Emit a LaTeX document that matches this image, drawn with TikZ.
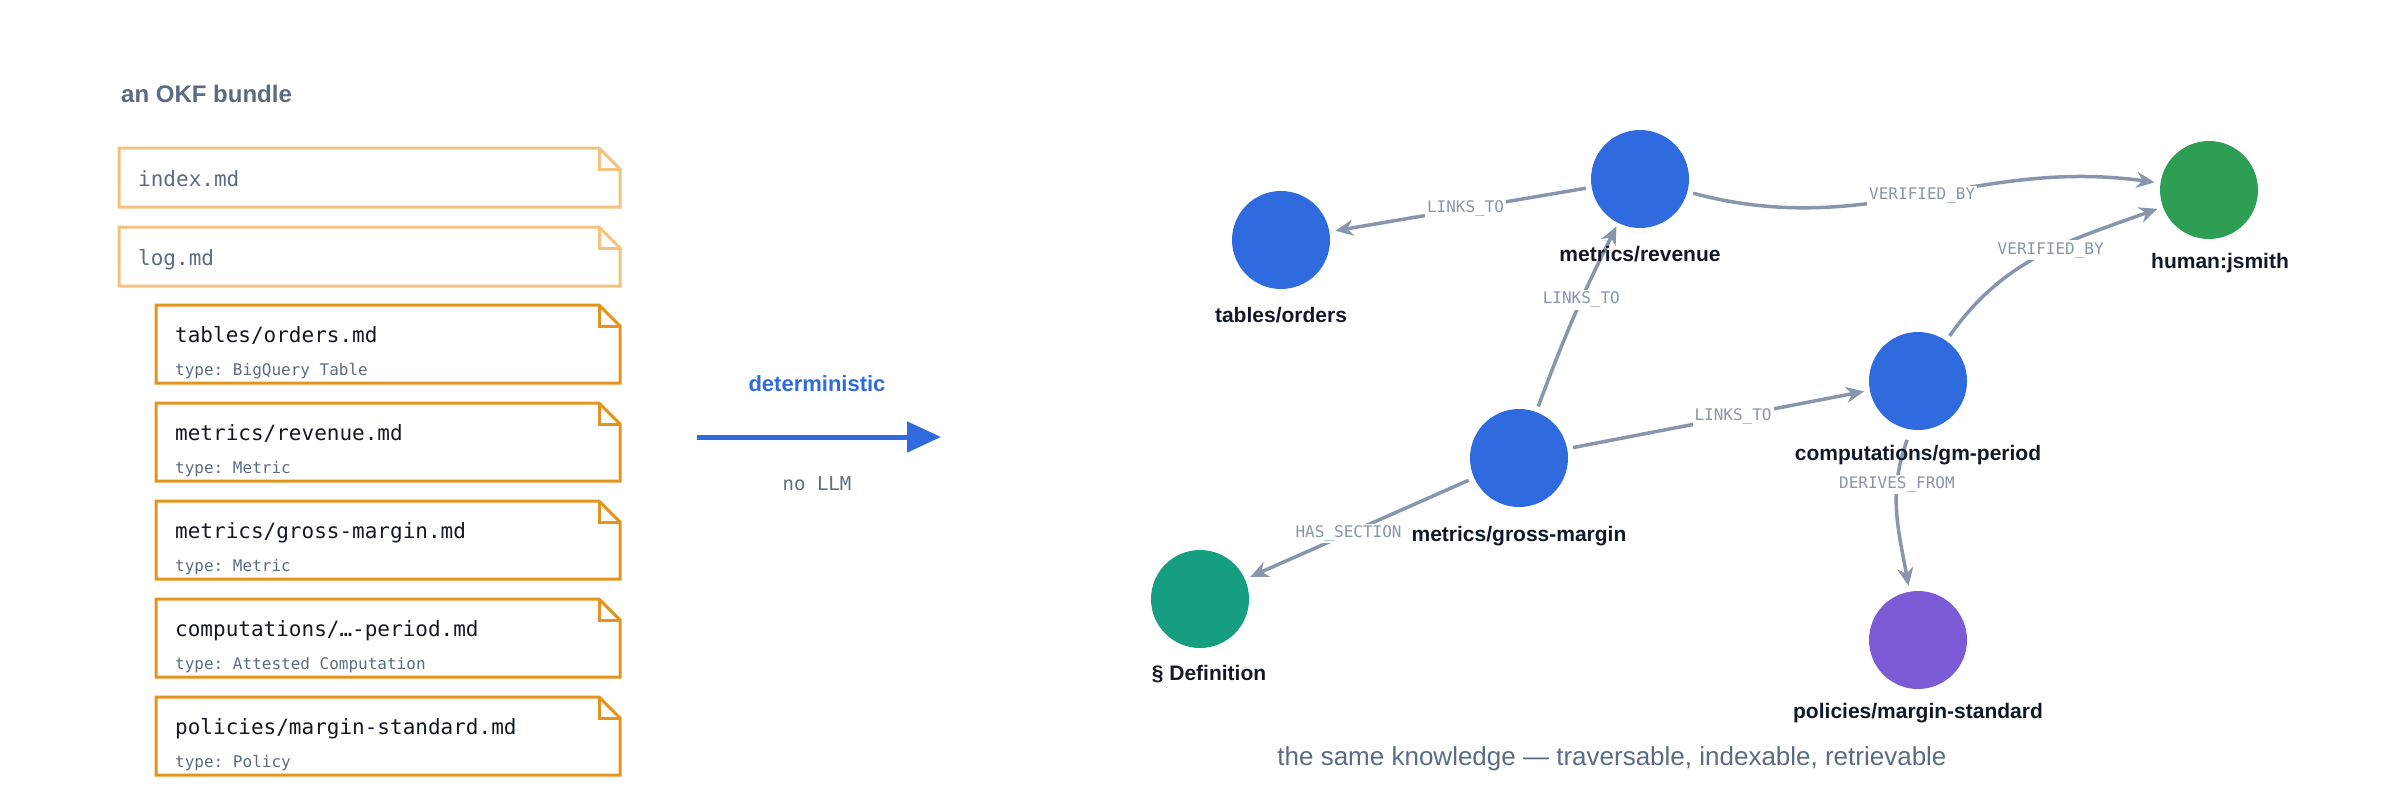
\documentclass[tikz,border=0pt]{standalone}
\usepackage{fontspec}
\setmainfont{Liberation Sans}
\setmonofont{DejaVu Sans Mono}
\usetikzlibrary{arrows.meta}
\definecolor{og}{HTML}{E39420}
\definecolor{ogl}{HTML}{F2C27E}
\definecolor{ink}{HTML}{111827}
\definecolor{sub}{HTML}{5B6B84}
\definecolor{ed}{HTML}{8796AD}
\definecolor{nb}{HTML}{2F6BDE}
\definecolor{ng}{HTML}{2E9E55}
\definecolor{nt}{HTML}{169E80}
\definecolor{np}{HTML}{7B5CD6}
\newcommand\okfdoc[6]{% x1,y1,x2,y2,color,name
  \draw[#5,line width=3pt,line join=miter] (#1,#2) -- (#3-21,#2) -- (#3,#2+21) -- (#3,#4) -- (#1,#4) -- cycle;
  \draw[#5,line width=3pt] (#3-21,#2) -- (#3-21,#2+21) -- (#3,#2+21);
  \coordinate (#6) at (#1,#2);}
\tikzset{
  x=1pt,y=-1pt,
  fname/.style={anchor=base west,inner sep=0,font=\fontsize{21}{21}\selectfont\ttfamily,text=ink},
  ftype/.style={anchor=base west,inner sep=0,font=\fontsize{16}{16}\selectfont\ttfamily,text=sub},
  gnode/.style={circle,minimum size=98pt,inner sep=0,outer sep=6pt},
  glab/.style={font=\fontsize{21}{21}\selectfont\bfseries,text=ink,inner sep=1pt},
  edge/.style={draw=ed,line width=3.5pt,-{Stealth[length=18pt,width=16pt]}},
  elab/.style={fill=white,inner sep=2pt,font=\fontsize{16}{16}\selectfont\ttfamily,text=ed},
}
\begin{document}
\begin{tikzpicture}
\useasboundingbox (0,0) rectangle (2400,800);
\node[anchor=base west,inner sep=0,font=\fontsize{24}{24}\selectfont\bfseries,text=sub] (title) at (121,102) {an OKF bundle};
% documents
\okfdoc{119}{148}{620}{207}{ogl}{d0}
\node[fname,text=sub] (t0) at (138,186) {index.md};
\okfdoc{119}{227}{620}{286}{ogl}{d1}
\node[fname,text=sub] (t1) at (138,265) {log.md};
\okfdoc{156}{305}{620}{383}{og}{d2}
\node[fname] (t2) at (175,342) {tables/orders.md};
\node[ftype] (y2) at (175,375) {type: BigQuery Table};
\okfdoc{156}{403}{620}{481}{og}{d3}
\node[fname] (t3) at (175,440) {metrics/revenue.md};
\node[ftype] (y3) at (175,473) {type: Metric};
\okfdoc{156}{501}{620}{579}{og}{d4}
\node[fname] (t4) at (175,538) {metrics/gross-margin.md};
\node[ftype] (y4) at (175,571) {type: Metric};
\okfdoc{156}{599}{620}{677}{og}{d5}
\node[fname] (t5) at (175,636) {computations/…-period.md};
\node[ftype] (y5) at (175,669) {type: Attested Computation};
\okfdoc{156}{697}{620}{775}{og}{d6}
\node[fname] (t6) at (175,734) {policies/margin-standard.md};
\node[ftype] (y6) at (175,767) {type: Policy};
% arrow
\coordinate (a0) at (697,437);
\coordinate (a1) at (941,437);
\draw[nb,line width=5pt,-{Triangle[length=34pt,width=30pt]}] (a0) -- (a1);
\node[font=\fontsize{22}{22}\selectfont\bfseries,text=nb] (det) at (817,384) {deterministic};
\node[font=\fontsize{19}{19}\selectfont\ttfamily,text=sub] (nollm) at (817,484) {no LLM};
% graph nodes
\node[gnode,fill=nb] (tab) at (1281,240) {};
\node[gnode,fill=nb] (rev) at (1640,179) {};
\node[gnode,fill=ng] (hum) at (2209,190) {};
\node[gnode,fill=nb] (comp) at (1918,381) {};
\node[gnode,fill=nb] (gm) at (1519,458) {};
\node[gnode,fill=nt] (def) at (1200,599) {};
\node[gnode,fill=np] (pol) at (1918,640) {};
% edges
\draw[edge] (rev) -- node[elab,pos=0.48]{LINKS\_TO} (tab);
\draw[edge] (rev) to[out=-15,in=172] node[elab,pos=0.5]{VERIFIED\_BY} (hum);
\draw[edge,shorten >=-2pt] (gm) to[bend left=3] node[elab,pos=0.6]{LINKS\_TO} (rev);
\draw[edge] (gm) -- node[elab,pos=0.55]{LINKS\_TO} (comp);
\draw[edge] (comp) to[out=55,in=200] node[elab,pos=0.55]{VERIFIED\_BY} (hum);
\draw[edge] (comp.south west) ++(28,20) coordinate (cs) to[out=-110,in=100] node[elab,pos=0.3]{DERIVES\_FROM} (pol);
\draw[edge] (gm) -- node[elab,pos=0.55]{HAS\_SECTION} (def);
% labels
\node[glab] (ltab) at (1281,315) {tables/orders};
\node[glab] (lrev) at (1640,254) {metrics/revenue};
\node[glab] (lhum) at (2220,263) {human:jsmith};
\node[glab] (lcomp) at (1918,455) {computations/gm-period};
\node[glab] (lgm) at (1519,536) {metrics/gross-margin};
\node[glab] (ldef) at (1209,674) {§ Definition};
\node[glab] (lpol) at (1918,713) {policies/margin-standard};
\node[font=\fontsize{26}{26}\selectfont,text=sub] (cap) at (1612,759) {the same knowledge — traversable, indexable, retrievable};
\end{tikzpicture}
\end{document}
